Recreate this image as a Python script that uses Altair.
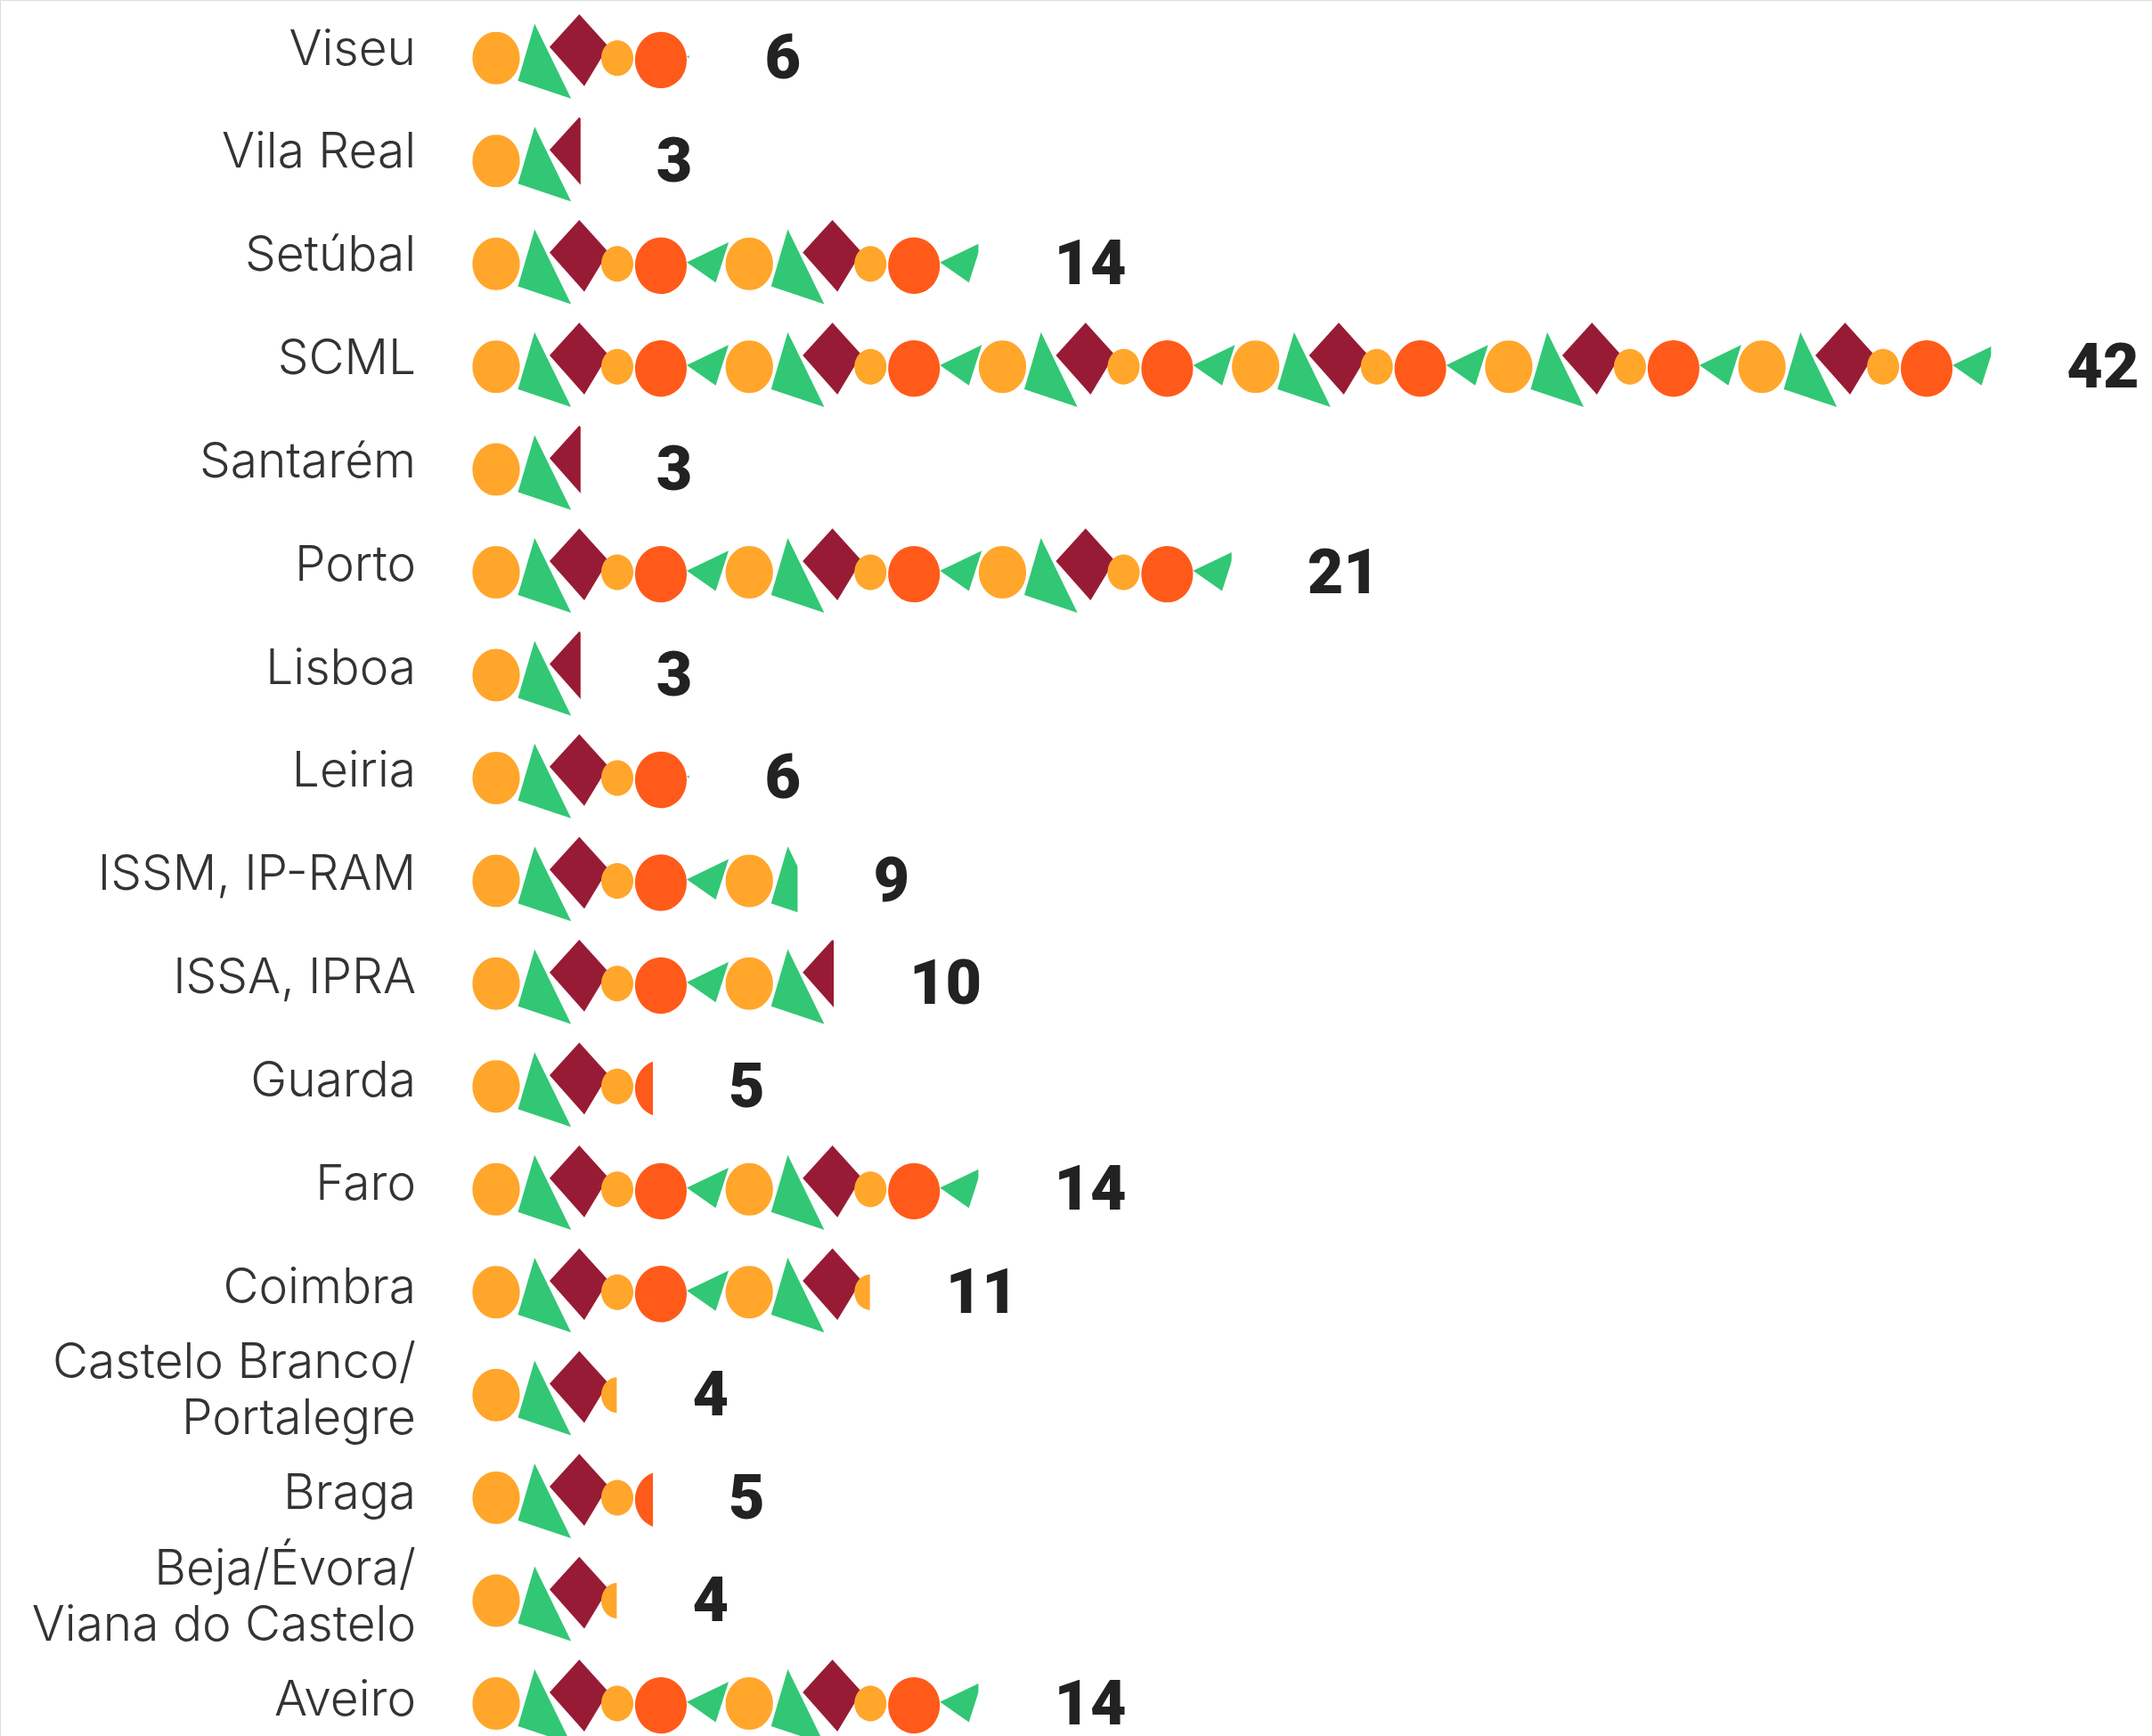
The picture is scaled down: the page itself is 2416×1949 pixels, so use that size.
import altair as alt
import pandas as pd

# Institutions, top to bottom, and their counts. "|" marks a line break in the label.
ROWS = [
    "Viseu", "Vila Real", "Setúbal", "SCML", "Santarém", "Porto", "Lisboa", "Leiria",
    "ISSM, IP-RAM", "ISSA, IPRA", "Guarda", "Faro", "Coimbra",
    "Castelo Branco/|Portalegre", "Braga", "Beja/Évora/|Viana do Castelo", "Aveiro",
]
COUNTS = [6, 3, 14, 42, 3, 21, 3, 6, 9, 10, 5, 14, 11, 4, 5, 4, 14]

# The repeating strip of glyphs: name, colour, outline (pixels around the glyph centre).
GLYPHS = ["dot_a", "tri_a", "diamond", "dot_b", "dot_c", "tri_b"]
COLORS = ["#FFA62B", "#32C774", "#981B35", "#FFA62B", "#FF5A1A", "#32C774"]
OUTLINES = [
    "M-26.6,0A26.6,29.5 0 1,1 26.6,0A26.6,29.5 0 1,1 -26.6,0Z",
    "M-11,-38.6L30,45.4L-29.7,25.4Z",
    "M1.4,-49.3L34,-13.3L7,31.4L-32,-12.6Z",
    "M-18,0A18,20 0 1,1 18,0A18,20 0 1,1 -18,0Z",
    "M-29,2.1A29,31.7 0 1,1 29,2.1A29,31.7 0 1,1 -29,2.1Z",
    "M-23.5,-1.7L23.5,-24.3L9,21Z",
]
# Where each glyph sits inside one 7-unit repeat, and where its left edge starts.
CENTERS = [0.665, 2.0, 2.93, 4.015, 5.22, 6.515]
LEFTS = [0.0, 1.26, 2.12, 3.57, 4.51, 5.96]
REPEAT = 7
MASK_WIDTH = 1.65

glyph_rows = []
for name, count in zip(ROWS, COUNTS):
    for cycle in range(count // REPEAT + 1):
        for glyph, center, left in zip(GLYPHS, CENTERS, LEFTS):
            if cycle * REPEAT + left < count:
                glyph_rows.append({"row": name, "pos": cycle * REPEAT + center, "glyph": glyph})
glyphs = pd.DataFrame(glyph_rows)
totals = pd.DataFrame({"row": ROWS, "count": COUNTS})
totals["mask_end"] = totals["count"] + MASK_WIDTH
totals["two_lines"] = totals["row"].str.contains("|", regex=False)

x_scale = alt.Scale(domain=[0, 46.45], range=[530, 2416])
y_marks = alt.Scale(type="point", domain=ROWS, range=[65.3, 1912.5], padding=0)
y_names = alt.Scale(type="point", domain=ROWS, range=[55.5, 1909], padding=0)

strip = alt.Chart(glyphs).mark_point(filled=True, size=4, opacity=1, strokeWidth=0).encode(
    x=alt.X("pos:Q", scale=x_scale, axis=None),
    y=alt.Y("row:N", scale=y_marks, axis=None),
    shape=alt.Shape("glyph:N", scale=alt.Scale(domain=GLYPHS, range=OUTLINES), legend=None),
    color=alt.Color("glyph:N", scale=alt.Scale(domain=GLYPHS, range=COLORS), legend=None),
)

# White cover that cuts the strip off exactly at the row's count.
cut = alt.Chart(totals).mark_bar(height=100, color="white").encode(
    x=alt.X("count:Q", scale=x_scale, axis=None),
    x2="mask_end:Q",
    y=alt.Y("row:N", scale=y_marks, axis=None),
)

numbers = alt.Chart(totals).mark_text(
    align="left", baseline="middle", dx=85, dy=2, font="Roboto", fontWeight=900, fontSize=70, color="#222222",
).encode(
    x=alt.X("count:Q", scale=x_scale, axis=None),
    y=alt.Y("row:N", scale=y_marks, axis=None),
    text="count:Q",
)

name_style = dict(
    align="right", baseline="middle", lineBreak="|", lineHeight=63,
    font="Inter", fontWeight=300, fontSize=55, color="#333333",
)
name_encoding = dict(
    x=alt.value(467),
    y=alt.Y("row:N", scale=y_names, axis=None),
    text="row:N",
)
names_single = alt.Chart(totals[~totals["two_lines"]]).mark_text(**name_style).encode(**name_encoding)
# Two-line labels are lifted half a line so the block centres on its row.
names_double = alt.Chart(totals[totals["two_lines"]]).mark_text(dy=-31.5, **name_style).encode(**name_encoding)

chart = (
    alt.layer(strip, cut, numbers, names_single, names_double)
    .resolve_scale(y="independent")
    .properties(width=2416, height=1949, padding=0, autosize=alt.AutoSizeParams(type="none"))
    .configure_view(stroke="transparent", strokeWidth=0)
    .configure(background="transparent")
)

chart.save("out.html", embed_options={"renderer": "svg", "actions": False})
